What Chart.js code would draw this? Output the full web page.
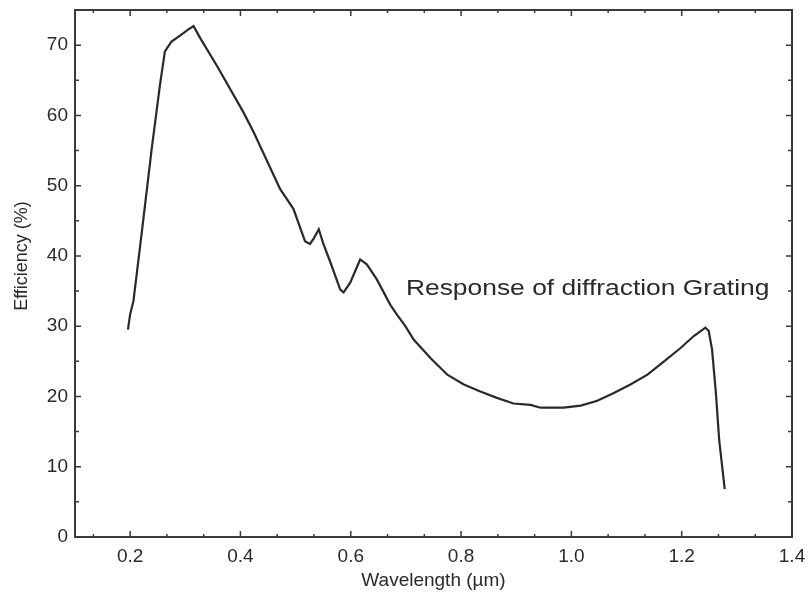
<!DOCTYPE html>
<html>
<head>
<meta charset="utf-8">
<script src="https://cdn.jsdelivr.net/npm/chart.js@4.4.0/dist/chart.umd.min.js"></script>
<style>
    html, body { margin: 0; padding: 0; background: #fff; }
    #wrap { width: 808px; height: 602px; }
</style>
</head>
<body>
<div id="wrap"><canvas id="myChart" width="808" height="602"></canvas></div>
<script>
// wavelength (um)
const wavelength = [0.196, 0.200, 0.206, 0.221, 0.239, 0.254, 0.263, 0.275, 0.291, 0.305,
    0.315, 0.327, 0.357, 0.405, 0.424, 0.472, 0.496, 0.517, 0.526, 0.533,
    0.542, 0.550, 0.563, 0.581, 0.587, 0.599, 0.617, 0.629, 0.647, 0.672,
    0.684, 0.699, 0.714, 0.744, 0.775, 0.805, 0.835, 0.865, 0.895, 0.926,
    0.944, 0.986, 1.017, 1.047, 1.077, 1.107, 1.138, 1.168, 1.198, 1.222,
    1.243, 1.249, 1.255, 1.262, 1.268, 1.278];
// efficiency (%)
const efficiency = [29.5, 31.7, 33.6, 43.3, 55.2, 64.3, 69.1, 70.5, 71.4, 72.2,
    72.7, 71.0, 67.1, 60.5, 57.6, 49.5, 46.7, 42.1, 41.7, 42.5,
    43.8, 41.8, 39.1, 35.2, 34.8, 36.2, 39.5, 38.8, 36.7, 33.0,
    31.6, 30.0, 28.1, 25.5, 23.1, 21.7, 20.7, 19.8, 19.0, 18.8,
    18.4, 18.4, 18.7, 19.4, 20.5, 21.7, 23.1, 25.0, 26.9, 28.6,
    29.8, 29.3, 26.7, 20.5, 13.8, 6.8];

const xTickLabels = [0.2, 0.4, 0.6, 0.8, 1.0, 1.2, 1.4];
const yTickLabels = [0, 10, 20, 30, 40, 50, 60, 70];
const annotation = { text: 'Response of diffraction Grating', x: 0.70, y: 34.4 };

const FONT = "'Liberation Sans', Arial, Helvetica, sans-serif";
const INK = '#2a2a2a';

// frame + inward tick marks on all four sides, plus the label
const framePlugin = {
    id: 'frame',
    afterDraw(chart) {
        const ctx = chart.ctx;
        const a = chart.chartArea;
        const xs = chart.scales.x;
        const ys = chart.scales.y;
        ctx.save();
        ctx.strokeStyle = '#3a3a3a';
        ctx.lineWidth = 2;
        ctx.strokeRect(a.left, a.top, a.right - a.left, a.bottom - a.top);

        ctx.lineWidth = 1.5;
        ctx.beginPath();
        // x ticks: every 1/3 of 0.2, longer on the labelled ones
        for (let i = 0; i <= 21; i++) {
            const v = i * 0.2 / 3;
            if (v < xs.min - 1e-6 || v > xs.max + 1e-6) continue;
            const px = xs.getPixelForValue(v);
            const len = (i % 3 === 0) ? 6 : 3;
            ctx.moveTo(px, a.bottom); ctx.lineTo(px, a.bottom - len);
            ctx.moveTo(px, a.top); ctx.lineTo(px, a.top + len);
        }
        // y ticks: every 5
        for (let v = 5; v < ys.max; v += 5) {
            const py = ys.getPixelForValue(v);
            const len = (v % 10 === 0) ? 6 : 4;
            ctx.moveTo(a.left, py); ctx.lineTo(a.left + len, py);
            ctx.moveTo(a.right, py); ctx.lineTo(a.right - len, py);
        }
        ctx.stroke();

        // curve label
        const tx = xs.getPixelForValue(annotation.x);
        const ty = ys.getPixelForValue(annotation.y);
        ctx.fillStyle = INK;
        ctx.font = '22px ' + FONT;
        ctx.textBaseline = 'alphabetic';
        ctx.translate(tx, ty);
        ctx.scale(1.2, 1);
        ctx.fillText(annotation.text, 0, 0);
        ctx.restore();
    }
};

const points = wavelength.map((w, i) => ({ x: w, y: efficiency[i] }));

const config = {
    type: 'line',
    data: {
        datasets: [{
            data: points,
            borderColor: INK,
            borderWidth: 2.2,
            pointRadius: 0,
            tension: 0,
            fill: false
        }]
    },
    options: {
        responsive: false,
        animation: false,
        layout: { padding: { top: 10, right: 16, left: 0, bottom: 0 } },
        plugins: {
            legend: { display: false },
            tooltip: { enabled: false }
        },
        scales: {
            x: {
                type: 'linear',
                min: 0.1,
                max: 1.4,
                grid: { display: false, drawTicks: false },
                border: { display: false },
                afterBuildTicks: s => { s.ticks = xTickLabels.map(v => ({ value: v })); },
                afterFit: s => { s.height = 65; s.paddingLeft = 0; s.paddingRight = 0; },
                ticks: {
                    color: INK,
                    padding: 8,
                    maxRotation: 0,
                    font: { family: FONT, size: 19 },
                    callback: v => v.toFixed(1)
                },
                title: {
                    display: true,
                    text: 'Wavelength (\u00b5m)',
                    color: INK,
                    font: { family: FONT, size: 19 },
                    padding: { top: 0, bottom: 10 }
                }
            },
            y: {
                type: 'linear',
                min: 0,
                max: 75,
                grid: { display: false, drawTicks: false },
                border: { display: false },
                afterBuildTicks: s => { s.ticks = yTickLabels.map(v => ({ value: v })); },
                afterFit: s => { s.width = 75; s.paddingTop = 0; s.paddingBottom = 0; },
                ticks: {
                    color: INK,
                    padding: 7,
                    font: { family: FONT, size: 19 }
                },
                title: {
                    display: true,
                    text: '\u00a0\u00a0\u00a0\u00a0\u00a0\u00a0\u00a0Efficiency (%)',
                    color: INK,
                    font: { family: FONT, size: 18 },
                    padding: { top: 11, bottom: 0 }
                }
            }
        }
    },
    plugins: [framePlugin]
};

new Chart(document.getElementById('myChart'), config);
</script>
</body>
</html>
